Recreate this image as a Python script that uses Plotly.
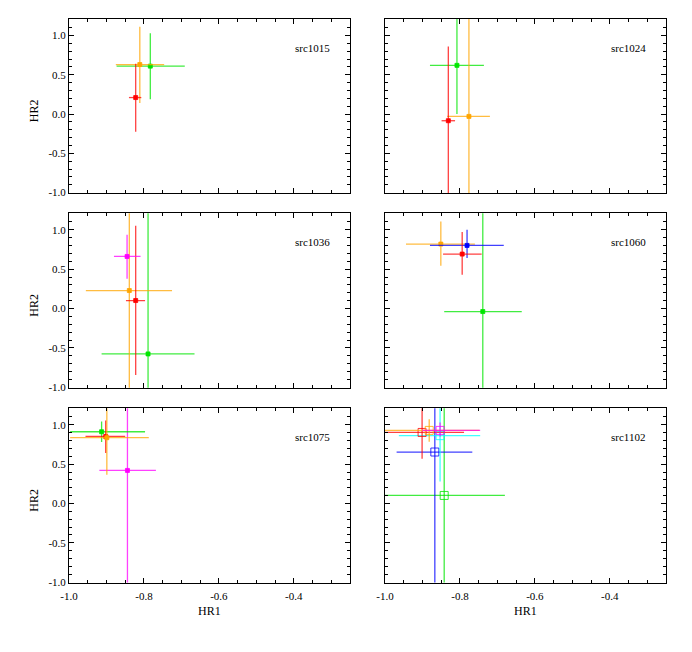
import plotly.graph_objects as go

# ---------------- data ----------------
SOURCES = ["src1015", "src1024", "src1036", "src1060", "src1075", "src1102"]

COLOR_RGB = {
    "red": (255, 0, 0), "orange": (255, 165, 0), "green": (0, 230, 0),
    "magenta": (255, 0, 255), "blue": (0, 0, 255), "cyan": (0, 255, 255),
}

# src1015
p1_colors = ["green", "orange", "red"]
p1_hr1 = [-0.783, -0.811, -0.822]
p1_hr1_lo = [-0.873, -0.875, -0.840]
p1_hr1_hi = [-0.691, -0.746, -0.807]
p1_hr2 = [0.61, 0.63, 0.21]
p1_hr2_lo = [0.19, 0.14, -0.225]
p1_hr2_hi = [1.03, 1.11, 0.64]

# src1024
p2_colors = ["green", "orange", "red"]
p2_hr1 = [-0.808, -0.776, -0.831]
p2_hr1_lo = [-0.880, -0.834, -0.849]
p2_hr1_hi = [-0.736, -0.720, -0.813]
p2_hr2 = [0.62, -0.03, -0.085]
p2_hr2_lo = [0.0, -1.5, -1.5]
p2_hr2_hi = [1.5, 1.5, 0.86]

# src1036
p3_colors = ["green", "orange", "red", "magenta"]
p3_hr1 = [-0.789, -0.839, -0.822, -0.845]
p3_hr1_lo = [-0.913, -0.955, -0.848, -0.880]
p3_hr1_hi = [-0.665, -0.725, -0.797, -0.809]
p3_hr2 = [-0.576, 0.229, 0.102, 0.662]
p3_hr2_lo = [-1.5, -1.5, -0.844, 0.378]
p3_hr2_hi = [1.5, 1.5, 1.052, 0.938]

# src1060
p4_colors = ["green", "orange", "blue", "red"]
p4_hr1 = [-0.739, -0.851, -0.781, -0.794]
p4_hr1_lo = [-0.842, -0.944, -0.880, -0.845]
p4_hr1_hi = [-0.635, -0.760, -0.683, -0.742]
p4_hr2 = [-0.038, 0.819, 0.802, 0.692]
p4_hr2_lo = [-1.5, 0.543, 0.641, 0.429]
p4_hr2_hi = [1.5, 1.107, 1.0, 0.972]

# src1075
p5_colors = ["magenta", "green", "red", "orange"]
p5_hr1 = [-0.844, -0.913, -0.902, -0.899]
p5_hr1_lo = [-0.919, -0.997, -0.956, -0.997]
p5_hr1_hi = [-0.768, -0.797, -0.850, -0.787]
p5_hr2 = [0.42, 0.912, 0.852, 0.836]
p5_hr2_lo = [-1.5, 0.781, 0.641, 0.365]
p5_hr2_hi = [1.5, 1.043, 1.056, 1.5]

# src1102
p6_colors = ["green", "blue", "cyan", "red", "orange", "magenta"]
p6_hr1 = [-0.842, -0.867, -0.853, -0.901, -0.882, -0.853]
p6_hr1_lo = [-1.1, -0.969, -0.963, -1.1, -1.1, -0.900]
p6_hr1_hi = [-0.680, -0.767, -0.746, -0.789, -0.748, -0.746]
p6_hr2 = [0.102, 0.654, 0.862, 0.903, 0.929, 0.929]
p6_hr2_lo = [-1.5, -1.5, 0.28, 0.569, 0.784, 0.85]
p6_hr2_hi = [1.5, 1.5, 1.5, 1.5, 1.07, 1.03]

PANELS = [
    (p1_colors, p1_hr1, p1_hr1_lo, p1_hr1_hi, p1_hr2, p1_hr2_lo, p1_hr2_hi),
    (p2_colors, p2_hr1, p2_hr1_lo, p2_hr1_hi, p2_hr2, p2_hr2_lo, p2_hr2_hi),
    (p3_colors, p3_hr1, p3_hr1_lo, p3_hr1_hi, p3_hr2, p3_hr2_lo, p3_hr2_hi),
    (p4_colors, p4_hr1, p4_hr1_lo, p4_hr1_hi, p4_hr2, p4_hr2_lo, p4_hr2_hi),
    (p5_colors, p5_hr1, p5_hr1_lo, p5_hr1_hi, p5_hr2, p5_hr2_lo, p5_hr2_hi),
    (p6_colors, p6_hr1, p6_hr1_lo, p6_hr1_hi, p6_hr2, p6_hr2_lo, p6_hr2_hi),
]

X_TICKS = [-1.0, -0.8, -0.6, -0.4]
X_TICKTEXT = ["-1.0", "-0.8", "-0.6", "-0.4"]
Y_TICKS = [1.0, 0.5, 0.0, -0.5, -1.0]
Y_TICKTEXT = ["1.0", "0.5", "0.0", "-0.5", "-1.0"]

# ---------------- layout geometry ----------------
W, H = 692, 652
FONT = "Liberation Serif"
col_px = [(69, 350), (385, 666)]
row_px = [(19, 193), (213.3, 387.7), (408.3, 582.5)]

def xdom(c):
    a, b = col_px[c]
    return [a / W, b / W]

def ydom(r):
    a, b = row_px[r]
    return [1 - b / H, 1 - a / H]

def rgba(name, a):
    r, g, b = COLOR_RGB[name]
    return f"rgba({r},{g},{b},{a})"

fig = go.Figure()
layout = dict(
    template="none",
    width=W, height=H, margin=dict(l=0, r=0, t=0, b=0, pad=0),
    paper_bgcolor="white", plot_bgcolor="white", showlegend=False,
    font=dict(family=FONT, size=11, color="black"),
)
annotations = []

for i, (cols, x, xlo, xhi, y, ylo, yhi) in enumerate(PANELS):
    r, c = divmod(i, 2)
    n = i + 1
    xa = "x" if n == 1 else f"x{n}"
    ya = "y" if n == 1 else f"y{n}"
    open_sym = (i == 5)
    for k in range(len(cols)):
        col = cols[k]
        fig.add_trace(go.Scatter(
            x=[x[k]], y=[y[k]], xaxis=xa, yaxis=ya, mode="markers",
            marker=dict(
                symbol="square-open" if open_sym else "square",
                size=8 if open_sym else 4,
                color=rgba(col, 0.8 if open_sym else 1),
                line=dict(width=1, color=rgba(col, 0.8)),
            ),
            error_x=dict(type="data", symmetric=False,
                         array=[xhi[k] - x[k]], arrayminus=[x[k] - xlo[k]],
                         color=rgba(col, 0.75), thickness=1.3, width=0),
            error_y=dict(type="data", symmetric=False,
                         array=[yhi[k] - y[k]], arrayminus=[y[k] - ylo[k]],
                         color=rgba(col, 0.75), thickness=1.3, width=0),
            hoverinfo="skip",
        ))
    axis_common = dict(
        showline=True, linecolor="black", linewidth=1, mirror="allticks",
        ticks="inside", ticklen=5, tickwidth=1, tickcolor="black",
        showgrid=False, zeroline=False, automargin=False,
        tickfont=dict(family=FONT, size=11, color="black"),
    )
    layout["xaxis" if n == 1 else f"xaxis{n}"] = dict(
        axis_common, domain=xdom(c), range=[-1.0, -0.25],
        anchor=ya, tickvals=X_TICKS, ticktext=X_TICKTEXT,
        showticklabels=(r == 2), ticklabelstandoff=3,
        minor=dict(dtick=0.05, tick0=-1.0, ticks="inside", ticklen=3,
                   tickcolor="black", showgrid=False),
    )
    layout["yaxis" if n == 1 else f"yaxis{n}"] = dict(
        axis_common, domain=ydom(r), range=[-1.005, 1.21],
        anchor=xa, tickvals=Y_TICKS, ticktext=Y_TICKTEXT,
        showticklabels=(c == 0),
        minor=dict(dtick=0.1, tick0=0.0, ticks="inside", ticklen=3,
                   tickcolor="black", showgrid=False),
    )
    annotations.append(dict(
        text=SOURCES[i], xref=f"{xa} domain", yref=f"{ya} domain",
        x=0.865, y=0.835, xanchor="center", yanchor="middle", showarrow=False,
        font=dict(family=FONT, size=11, color="black"),
    ))
    if c == 0:
        annotations.append(dict(
            text="HR2", xref="paper", yref=f"{ya} domain",
            x=34 / W, y=0.47, textangle=-90, xanchor="center", yanchor="middle",
            showarrow=False, font=dict(family=FONT, size=12, color="black"),
        ))
    if r == 2:
        annotations.append(dict(
            text="HR1", xref=f"{xa} domain", yref="paper",
            x=0.5, y=1 - 611 / H, xanchor="center", yanchor="middle",
            showarrow=False, font=dict(family=FONT, size=12, color="black"),
        ))

layout["annotations"] = annotations
fig.update_layout(**layout)
fig.write_html(
    "out.html",
    config={"displayModeBar": False, "staticPlot": True},
    post_script="document.body.style.margin='0';document.body.style.overflow='hidden';",
)
